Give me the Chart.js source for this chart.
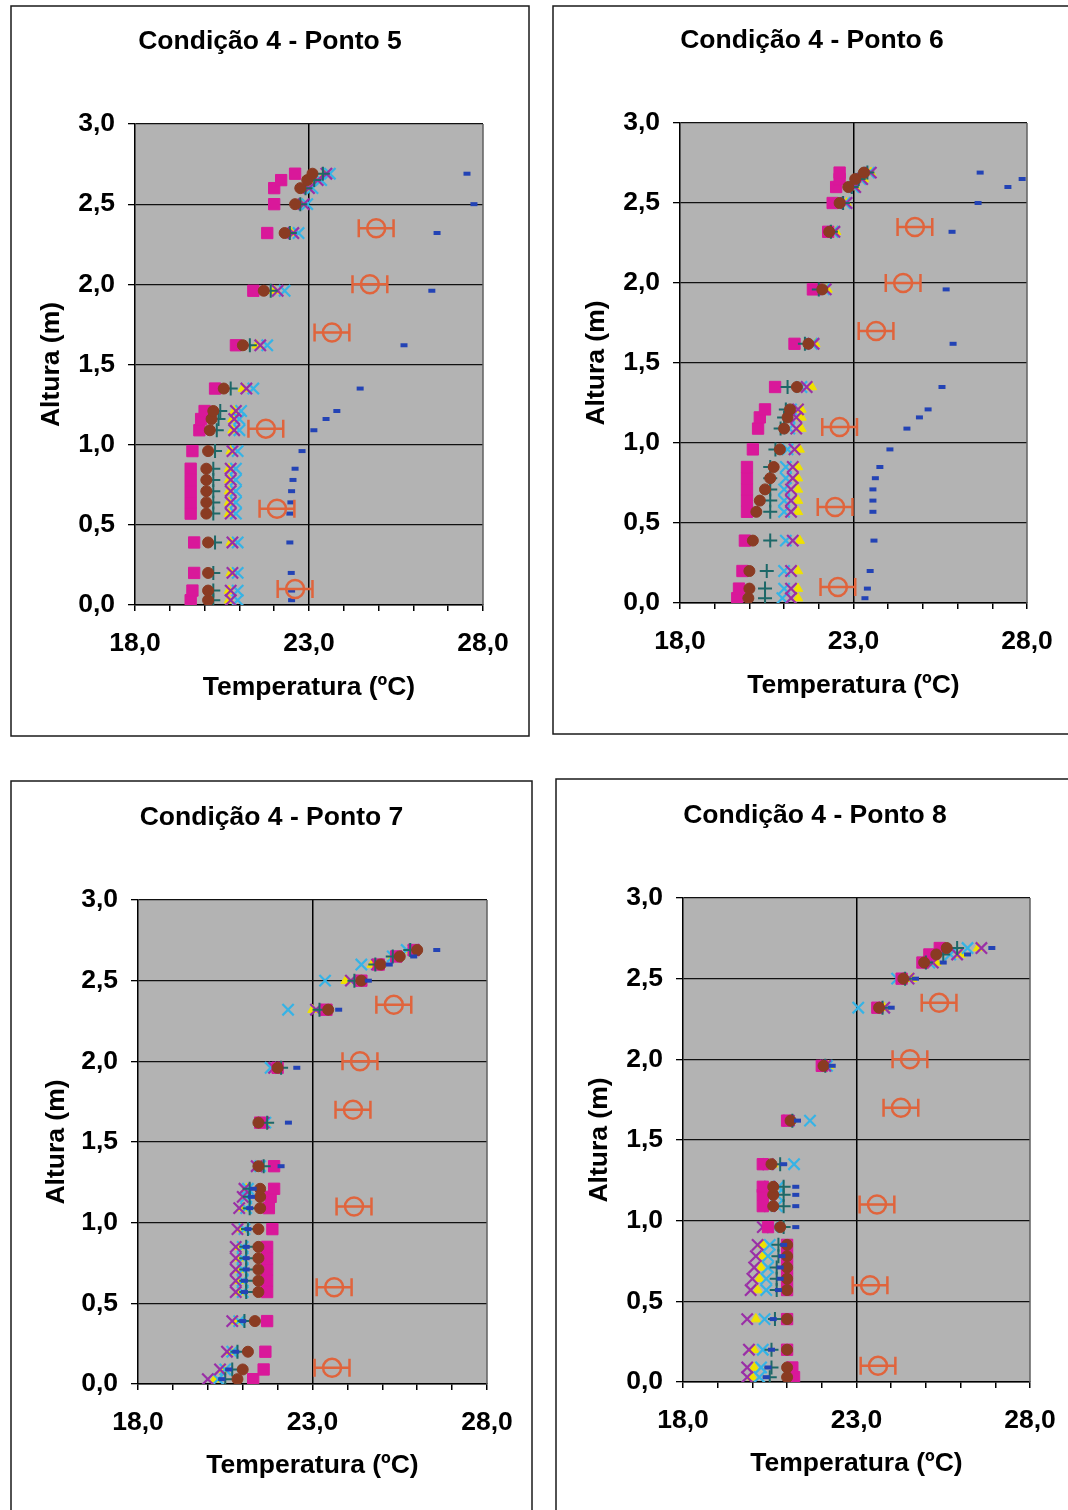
<!DOCTYPE html>
<html><head><meta charset="utf-8">
<script src="https://cdn.jsdelivr.net/npm/chart.js@4.4.0/dist/chart.umd.min.js"></script>
<style>
html,body{margin:0;padding:0;background:#fff;width:1068px;height:1510px;overflow:hidden;position:relative}
canvas{position:absolute}
</style></head><body>
<canvas id="c5"></canvas><canvas id="c6"></canvas><canvas id="c7"></canvas><canvas id="c8"></canvas>
<script>
// ---------- DATA ----------
const TITLES = ['Condição 4 - Ponto 5','Condição 4 - Ponto 6','Condição 4 - Ponto 7','Condição 4 - Ponto 8'];
const X_TITLE = 'Temperatura (ºC)';
const Y_TITLE = 'Altura (m)';
const X_LABELS = [18, 23, 28];
const HEIGHTS = [0.03,0.09,0.2,0.39,0.57,0.64,0.71,0.78,0.85,0.96,1.09,1.16,1.21,1.35,1.62,1.96,2.32,2.5,2.6,2.65,2.69];
const MEAS_HEIGHTS = [0.1,0.6,1.1,1.7,2.0,2.35];
const MEAS_ERR = [0.5,0.5,0.5,0.5,0.5,0.5];

// Ponto 5
const mag5  = [19.6,19.65,19.7,19.7,19.6,19.6,19.6,19.6,19.6,19.65,19.85,19.9,20.0,20.3,20.9,21.4,21.8,22.0,22.0,22.2,22.6];
const brn5  = [20.1,20.1,20.1,20.1,20.05,20.05,20.05,20.05,20.05,20.1,20.15,20.2,20.25,20.55,21.1,21.7,22.3,22.6,22.75,22.95,23.1];
const teal5 = [20.25,20.25,20.25,20.3,20.25,20.25,20.25,20.25,20.25,20.3,20.35,20.4,20.45,20.75,21.3,21.9,22.45,22.75,22.9,23.15,23.4];
const yel5  = [20.7,20.7,20.75,20.75,20.7,20.7,20.7,20.7,20.7,20.75,20.8,20.8,20.85,21.1,21.5,22.0,22.5,22.8,22.95,23.2,23.45];
const purp5 = [20.75,20.75,20.8,20.8,20.75,20.75,20.75,20.75,20.75,20.8,20.85,20.85,20.9,21.2,21.6,22.1,22.55,22.85,23.0,23.25,23.5];
const cyan5 = [20.95,20.95,20.95,20.95,20.9,20.9,20.9,20.9,20.9,20.95,21.0,21.0,21.05,21.4,21.8,22.3,22.7,22.95,23.1,23.35,23.6];
const blue5 = [22.5,22.5,22.49,22.45,22.45,22.48,22.5,22.54,22.6,22.8,23.14,23.49,23.8,24.47,25.73,26.53,26.68,27.74,null,null,27.54];
const meas5 = [22.6,22.08,21.76,23.66,24.75,24.93];

// Ponto 6
const mag6  = [19.65,19.7,19.8,19.87,19.93,19.93,19.93,19.93,19.93,20.1,20.25,20.3,20.45,20.74,21.3,21.83,22.27,22.4,22.5,22.6,22.6];
const brn6  = [19.97,20.0,20.0,20.1,20.2,20.3,20.45,20.6,20.7,20.88,21.0,21.1,21.17,21.37,21.7,22.1,22.3,22.6,22.85,23.05,23.3];
const teal6 = [20.45,20.45,20.5,20.6,20.6,20.6,20.6,20.6,20.6,20.75,20.9,21.0,21.05,21.1,21.6,22.0,22.35,22.7,22.95,23.15,23.4];
const yel6  = [21.4,21.4,21.4,21.45,21.4,21.4,21.4,21.4,21.4,21.45,21.5,21.5,21.5,21.8,21.9,22.25,22.5,22.8,23.05,23.3,23.5];
const purp6 = [21.2,21.2,21.2,21.25,21.2,21.2,21.2,21.25,21.25,21.3,21.35,21.35,21.4,21.65,21.85,22.2,22.45,22.8,23.05,23.25,23.5];
const cyan6 = [20.95,21.0,21.0,21.05,21.0,21.0,21.0,21.05,21.05,21.1,21.15,21.15,21.2,21.5,21.8,22.15,22.4,22.75,23.0,23.2,23.45];
const blue6 = [23.33,23.4,23.48,23.59,23.56,23.56,23.56,23.63,23.76,24.05,24.54,24.9,25.15,25.55,25.87,25.67,25.84,26.59,27.45,27.86,26.65];
const meas6 = [22.55,22.47,22.6,23.65,24.43,24.77];

// Ponto 7
const mag7  = [21.3,21.6,21.65,21.7,21.7,21.7,21.7,21.7,21.7,21.85,21.75,21.8,21.9,21.9,21.5,22.0,23.4,24.4,24.9,25.4,25.9];
const brn7  = [20.85,21.0,21.15,21.35,21.45,21.45,21.45,21.45,21.45,21.45,21.5,21.5,21.5,21.45,21.45,22.0,23.45,24.4,24.95,25.5,26.0];
const teal7 = [20.5,20.7,20.85,21.05,21.1,21.1,21.1,21.1,21.1,21.15,21.2,21.2,21.2,21.6,21.7,22.1,23.2,24.2,24.8,25.3,25.8];
const yel7  = [20.2,20.45,20.65,20.8,20.9,20.9,20.9,20.9,20.9,20.95,21.0,21.05,21.1,21.5,21.65,21.95,23.0,23.95,24.7,25.3,25.8];
const purp7 = [20.0,20.35,20.55,20.7,20.8,20.8,20.8,20.8,20.8,20.85,20.9,21.0,21.05,21.4,21.6,21.9,23.1,24.1,24.85,25.4,25.9];
const cyan7 = [20.3,20.5,20.7,20.9,21.0,21.0,21.0,21.0,21.0,21.05,21.1,21.1,21.15,21.5,21.65,21.8,22.3,23.36,24.4,25.3,25.7];
const blue7 = [20.4,20.6,20.8,21.0,21.05,21.05,21.1,21.1,21.1,21.15,21.2,21.25,21.3,22.1,22.31,22.55,23.75,24.6,25.2,25.9,26.56];
const meas7 = [23.56,23.62,24.19,24.16,24.36,25.33];

// Ponto 8
const mag8  = [21.2,21.15,21.0,21.0,21.0,21.0,21.0,21.0,21.0,20.45,20.3,20.3,20.3,20.3,21.0,22.0,23.6,24.3,24.9,25.1,25.4];
const brn8  = [21.0,21.0,21.0,21.0,21.0,21.0,21.0,21.0,21.0,20.8,20.6,20.6,20.6,20.55,21.1,22.05,23.65,24.35,24.95,25.3,25.6];
const teal8 = [20.5,20.55,20.55,20.65,20.7,20.7,20.7,20.75,20.75,20.9,20.9,20.9,20.9,20.8,21.15,22.1,23.75,24.4,25.0,25.5,25.9];
const yel8  = [20.0,20.05,20.05,20.1,20.15,20.2,20.25,20.3,20.3,20.4,20.6,20.6,20.6,20.6,21.1,22.2,23.8,24.6,25.3,26.0,26.5];
const purp8 = [19.85,19.85,19.9,19.85,19.95,20.0,20.05,20.1,20.15,20.3,20.5,20.5,20.5,20.45,21.05,22.1,23.8,24.5,25.2,25.9,26.6];
const cyan8 = [20.2,20.25,20.3,20.35,20.4,20.4,20.45,20.45,20.5,20.6,20.7,20.7,20.75,21.2,21.66,22.15,23.05,24.17,25.1,25.7,26.2];
const blue8 = [20.4,20.45,20.55,20.6,20.75,20.8,20.8,20.85,20.9,21.25,21.25,21.25,21.25,20.9,21.3,22.3,24.0,24.7,25.5,26.2,26.9];
const meas8 = [23.62,23.39,23.59,24.28,24.54,25.38];

// ---------- LAYOUT / STYLE ----------
const PANELS = [
  {id:'c5', left:10,  top:5,   w:520, h:732, pl:125, pt:119, pr:473, pb:600, titleCy:36, yTitleCx:40,
   s:{mag:mag5,brn:brn5,teal:teal5,yel:yel5,purp:purp5,cyan:cyan5,blue:blue5,meas:meas5}},
  {id:'c6', left:552, top:5,   w:520, h:730, pl:128, pt:118, pr:475, pb:598, titleCy:35, yTitleCx:43,
   s:{mag:mag6,brn:brn6,teal:teal6,yel:yel6,purp:purp6,cyan:cyan6,blue:blue6,meas:meas6}},
  {id:'c7', left:10,  top:780, w:523, h:735, pl:128, pt:120, pr:477, pb:604, titleCy:37, yTitleCx:45,
   s:{mag:mag7,brn:brn7,teal:teal7,yel:yel7,purp:purp7,cyan:cyan7,blue:blue7,meas:meas7}},
  {id:'c8', left:555, top:778, w:520, h:735, pl:128, pt:120, pr:475, pb:604, titleCy:37, yTitleCx:43,
   s:{mag:mag8,brn:brn8,teal:teal8,yel:yel8,purp:purp8,cyan:cyan8,blue:blue8,meas:meas8}}
];
const FONT_FAMILY = "'Liberation Sans', Arial, sans-serif";
const FS = 26.5;
const ORANGE = '#e0643c';

function pts(xs, ys){ const out=[]; xs.forEach((v,i)=>{ if(v!==null) out.push({x:v,y:ys[i]}); }); return out; }

const bgPlugin = {
  id:'bg',
  beforeDraw(chart){
    const {ctx, chartArea:a} = chart;
    ctx.save(); ctx.fillStyle = '#b3b3b3';
    ctx.fillRect(a.left, a.top, a.right-a.left, a.bottom-a.top);
    ctx.restore();
  },
  afterDraw(chart){
    const {ctx, chartArea:a, width, height} = chart;
    const o = chart.options.plugins.panelTitle;
    ctx.save();
    ctx.strokeStyle = '#606060'; ctx.lineWidth = 1.5;
    ctx.beginPath(); ctx.moveTo(a.right, a.top); ctx.lineTo(a.right, a.bottom); ctx.stroke();
    ctx.strokeStyle = '#1a1a1a'; ctx.lineWidth = 1.5;
    ctx.strokeRect(1, 1, width-2, height-2);
    ctx.fillStyle = '#000';
    ctx.font = 'bold ' + FS + 'px ' + FONT_FAMILY;
    ctx.textAlign = 'center'; ctx.textBaseline = 'middle';
    ctx.fillText(o.text, width/2, o.cy);
    ctx.restore();
  }
};
const errPlugin = {
  id:'errbars',
  afterDatasetsDraw(chart){
    const {ctx} = chart;
    const xs = chart.scales.x, ys = chart.scales.y;
    chart.data.datasets.forEach(ds=>{
      if(!ds.errX) return;
      ctx.save(); ctx.strokeStyle = ORANGE; ctx.lineWidth = 2.5;
      ds.data.forEach((p,i)=>{
        const e = ds.errX[i];
        const x1 = xs.getPixelForValue(p.x-e), x2 = xs.getPixelForValue(p.x+e), y = ys.getPixelForValue(p.y);
        ctx.beginPath();
        ctx.moveTo(x1,y); ctx.lineTo(x2,y);
        ctx.moveTo(x1,y-9); ctx.lineTo(x1,y+9);
        ctx.moveTo(x2,y-9); ctx.lineTo(x2,y+9);
        ctx.stroke();
      });
      ctx.restore();
    });
  }
};

PANELS.forEach((P, k)=>{
  const cv = document.getElementById(P.id);
  cv.width = P.w; cv.height = P.h;
  cv.style.left = P.left+'px'; cv.style.top = P.top+'px';
  cv.style.width = P.w+'px'; cv.style.height = P.h+'px';
  const s = P.s;
  const datasets = [
    {label:'Medido', data:pts(s.meas, MEAS_HEIGHTS), errX:MEAS_ERR, pointStyle:'circle', pointRadius:9, borderColor:ORANGE, backgroundColor:'rgba(0,0,0,0)', pointBorderWidth:2.5},
    {label:'s7', data:pts(s.blue, HEIGHTS), pointStyle:'line', pointRadius:3.5, borderColor:'#2343b5', backgroundColor:'#2343b5', pointBorderWidth:4},
    {label:'s2', data:pts(s.brn, HEIGHTS), pointStyle:'circle', pointRadius:5.5, borderColor:'#8a3b22', backgroundColor:'#8a3b22', pointBorderWidth:1},
    {label:'s3', data:pts(s.teal, HEIGHTS), pointStyle:'cross', pointRadius:7, borderColor:'#1d6868', backgroundColor:'#1d6868', pointBorderWidth:2},
    {label:'s1', data:pts(s.mag, HEIGHTS), pointStyle:'rect', pointRadius:8, borderColor:'#d9189a', backgroundColor:'#d9189a', pointBorderWidth:1},
    {label:'s5', data:pts(s.purp, HEIGHTS), pointStyle:'crossRot', pointRadius:8, borderColor:'#9a2fa6', backgroundColor:'#9a2fa6', pointBorderWidth:2.2},
    {label:'s4', data:pts(s.cyan, HEIGHTS), pointStyle:'crossRot', pointRadius:8, borderColor:'#35b3e6', backgroundColor:'#35b3e6', pointBorderWidth:2.2},
    {label:'s6', data:pts(s.yel, HEIGHTS), pointStyle:'triangle', pointRadius:5.5, borderColor:'#efe100', backgroundColor:'#efe100', pointBorderWidth:1}
  ];
  new Chart(cv, {
    type:'scatter',
    data:{datasets},
    plugins:[bgPlugin, errPlugin],
    options:{
      responsive:false, animation:false, devicePixelRatio:1,
      layout:{padding:{left:0, top:P.pt, right:P.w-P.pr, bottom:0}},
      plugins:{
        legend:{display:false}, tooltip:{enabled:false}, title:{display:false},
        panelTitle:{text:TITLES[k], cy:P.titleCy+1}
      },
      scales:{
        x:{type:'linear', min:18, max:28,
          afterFit(sc){ sc.height = P.h - P.pb; },
          border:{display:true, color:'#000', width:1.5},
          grid:{color:(c)=> (c.tick && c.tick.value===23) ? '#000' : 'rgba(0,0,0,0)', lineWidth:1.5, tickColor:'#000', tickLength:6, drawTicks:true},
          ticks:{stepSize:1, autoSkip:false, maxRotation:0, padding:17, color:'#000',
            font:{family:FONT_FAMILY, size:FS, weight:'bold'},
            callback:(v)=> X_LABELS.includes(v) ? v.toFixed(1).replace('.',',') : ''},
          title:{display:true, text:X_TITLE, color:'#000', font:{family:FONT_FAMILY, size:FS, weight:'bold'}, padding:{top:0,bottom:33}}
        },
        y:{type:'linear', min:0, max:3,
          afterFit(sc){ sc.width = P.pl; },
          border:{display:true, color:'#000', width:1.5},
          grid:{color:'#111', lineWidth:1.3, tickColor:'#000', tickLength:7},
          ticks:{stepSize:0.5, padding:13, color:'#000',
            font:{family:FONT_FAMILY, size:FS, weight:'bold'},
            callback:(v)=> v.toFixed(1).replace('.',',')},
          title:{display:true, text:Y_TITLE, color:'#000', font:{family:FONT_FAMILY, size:FS, weight:'bold'}, padding:{top:P.yTitleCx-14, bottom:0}}
        }
      }
    }
  });
});
</script>
</body></html>
